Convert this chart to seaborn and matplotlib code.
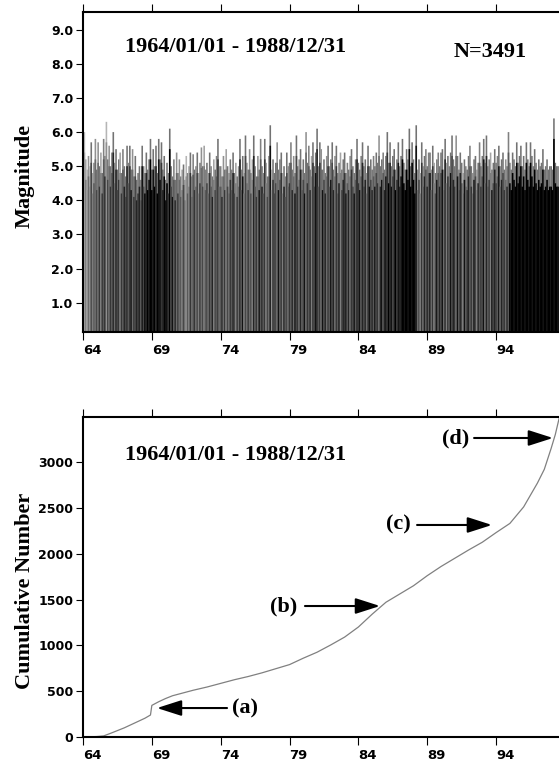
import matplotlib
matplotlib.use("Agg")
import matplotlib.pyplot as plt
import numpy as np
import pandas as pd
import seaborn as sns

# --- data --------------------------------------------------------------
# spike tops (magnitude), one value per 0.1 year, 1964.0 onwards
mag_64_68 = [5.3, 6.0, 5.2, 4.9, 5.3, 5.0, 5.7, 4.8, 5.1, 5.8,
             4.9, 5.7, 5.0, 5.4, 4.8, 5.8, 5.3, 6.3, 5.2, 5.6,
             5.0, 5.4, 6.0, 5.1, 5.5, 4.9, 5.2, 5.4, 4.8, 5.5,
             5.0, 4.7, 5.6, 5.1, 5.6, 4.9, 5.5, 4.7, 5.3, 4.6,
             4.8, 5.0, 4.6, 5.6, 5.0, 4.8, 5.4, 4.9, 5.2, 5.8]
mag_69_73 = [4.9, 5.5, 5.0, 5.6, 4.8, 5.8, 5.2, 5.7, 4.9, 5.3,
             4.6, 5.1, 4.8, 6.1, 5.0, 4.7, 5.2, 4.6, 5.4, 4.8,
             5.2, 4.7, 4.9, 5.05, 4.6, 5.3, 4.8, 5.0, 5.4, 4.7,
             5.35, 4.9, 5.0, 5.4, 4.8, 5.1, 5.55, 5.0, 5.6, 4.9,
             5.1, 4.8, 5.4, 5.0, 4.7, 5.2, 4.9, 5.3, 5.8, 5.0]
mag_74_78 = [5.0, 4.7, 5.3, 4.9, 5.5, 5.0, 4.8, 5.2, 4.9, 5.4,
             4.8, 5.1, 4.7, 5.0, 5.8, 4.9, 5.3, 4.8, 5.9, 5.1,
             4.9, 5.5, 4.8, 5.2, 5.9, 5.0, 4.7, 5.3, 4.9, 5.8,
             5.0, 4.8, 5.8, 5.1, 4.7, 5.3, 6.2, 4.9, 5.2, 4.8,
             5.1, 5.7, 4.9, 5.2, 5.4, 4.8, 5.0, 4.7, 5.4, 5.0]
mag_79_83 = [5.1, 5.7, 4.9, 5.3, 4.8, 5.9, 5.0, 5.2, 5.5, 4.9,
             5.2, 4.8, 6.0, 5.1, 5.6, 4.9, 5.3, 5.7, 5.0, 5.4,
             6.1, 5.0, 5.7, 5.5, 4.9, 5.2, 4.8, 5.3, 5.6, 5.0,
             5.2, 5.7, 4.9, 5.3, 5.6, 4.8, 5.1, 5.4, 4.9, 5.2,
             5.4, 4.8, 5.1, 4.9, 5.3, 5.5, 5.0, 4.8, 5.2, 5.8]
mag_84_88 = [5.1, 4.9, 5.3, 5.7, 5.0, 5.2, 4.8, 5.6, 5.0, 5.2,
             4.9, 5.3, 5.0, 5.4, 5.1, 5.9, 5.0, 5.2, 5.4, 4.9,
             5.3, 6.0, 5.1, 5.7, 5.0, 5.3, 5.5, 4.9, 5.2, 5.7,
             5.0, 5.3, 5.8, 5.1, 4.9, 5.5, 5.2, 6.1, 5.0, 5.7,
             5.2, 4.8, 6.2, 4.9, 5.2, 4.8, 5.7, 5.0, 5.3, 5.5]
mag_89_93 = [5.0, 5.4, 5.4, 4.9, 5.6, 5.1, 4.8, 5.2, 5.4, 5.0,
             5.4, 5.5, 4.9, 5.8, 5.1, 5.3, 5.0, 5.4, 5.9, 5.2,
             5.0, 5.9, 5.3, 4.9, 5.4, 5.1, 4.8, 5.2, 5.0, 4.9,
             5.3, 5.6, 5.0, 4.8, 5.2, 5.3, 4.9, 5.1, 5.7, 5.0,
             5.3, 5.8, 5.1, 5.9, 5.0, 5.2, 5.4, 4.9, 5.1, 5.5]
mag_94_98 = [5.1, 5.3, 5.6, 5.0, 5.2, 5.4, 4.9, 5.2, 5.0, 6.0,
             5.1, 4.9, 5.4, 5.2, 5.0, 5.7, 5.1, 5.3, 5.6, 5.0,
             5.3, 4.9, 5.7, 5.2, 5.0, 5.7, 5.3, 5.0, 5.5, 5.1,
             4.9, 5.2, 5.0, 5.1, 5.5, 4.9, 5.0, 5.2, 4.9, 5.0,
             5.0, 4.9, 6.4, 5.1, 5.0, 5.0]

# grey level of each spike column, 0 = black ... 9 = very light
shade_64_68 = "6979684756" "4637352846" "3526243735" "2425316342" "3251402010"
shade_69_73 = "0102010320" "1030415263" "6574685736" "5364736475" "4635274536"
shade_74_78 = "5263746352" "4736251746" "3647253615" "2537461834" "4615372546"
shade_79_83 = "3526143625" "4163527341" "2536142635" "1426351742" "3152634152"
shade_84_88 = "3152426314" "2514362152" "1302142031" "2100000000" "0016473625"
shade_89_93 = "2516374152" "4162735142" "3615247153" "2536147253" "4162537142"
shade_94_98 = "3516243625" "0000000000" "0000000000" "0000000000" "000000"

# cumulative number of events
cum_year = [64.0, 64.5, 65.0, 65.5, 66.0, 66.5, 67.0, 67.5, 68.0, 68.5,
            68.9, 69.0, 69.5, 70.0, 70.5, 71.0, 72.0, 73.0, 74.0, 75.0,
            76.0, 77.0, 78.0, 79.0, 80.0, 81.0, 82.0, 83.0, 84.0, 85.0,
            86.0, 87.0, 88.0, 89.0, 90.0, 91.0, 92.0, 93.0, 94.0, 95.0,
            95.5, 96.0, 96.5, 97.0, 97.5, 98.0, 98.3, 98.6]
cum_count = [0, 2, 5, 12, 40, 70, 100, 135, 170, 205,
             240, 345, 385, 420, 450, 470, 510, 545, 585, 625,
             660, 700, 745, 790, 860, 925, 1005, 1090, 1200, 1340,
             1470, 1560, 1650, 1760, 1860, 1950, 2040, 2125, 2230, 2330,
             2420, 2510, 2640, 2770, 2920, 3150, 3300, 3491]

year_ticks = [64, 69, 74, 79, 84, 89, 94]
mag_ticks = [1.0, 2.0, 3.0, 4.0, 5.0, 6.0, 7.0, 8.0, 9.0]
cum_ticks = [0, 500, 1000, 1500, 2000, 2500, 3000]
period = "1964/01/01 - 1988/12/31"
n_events = 3491

# --- figure -------------------------------------------------------------
sns.set_style("ticks")
plt.rcParams["font.family"] = ["DejaVu Sans"]
plt.rcParams["font.weight"] = "bold"
for key in ("text.color", "axes.labelcolor", "xtick.color", "ytick.color"):
    plt.rcParams[key] = "black"
serif = ["Liberation Serif", "DejaVu Serif"]

W, H = 559, 761
fig = plt.figure(figsize=(W / 100, H / 100), dpi=100)
ax_w = 492  # axes run past the right edge of the picture
ax1 = fig.add_axes([83 / W, (H - 332) / H, ax_w / W, 320 / H])
ax2 = fig.add_axes([83 / W, (H - 737) / H, ax_w / W, 320 / H])
xmax = 64 + ax_w / 13.77

mags = mag_64_68 + mag_69_73 + mag_74_78 + mag_79_83 + mag_84_88 + mag_89_93 + mag_94_98
shades = shade_64_68 + shade_69_73 + shade_74_78 + shade_79_83 + shade_84_88 + shade_89_93 + shade_94_98
spikes = pd.DataFrame({"mag": mags, "shade": [int(c) * 0.07 for c in shades]})
spikes["year"] = 64 + 0.1 * np.arange(len(spikes))
# lone tops of the spikes look lighter than the crowded lower part
spikes["body"] = spikes["mag"] - 0.6
spikes["tip"] = np.clip(spikes["shade"] + 0.15, 0.45, 0.72)

tips = ax1.vlines(spikes["year"], 0, spikes["mag"],
                  colors=[str(round(c, 3)) for c in spikes["tip"]], lw=1.15)
body = ax1.vlines(spikes["year"], 0, spikes["body"],
                  colors=[str(round(c, 3)) for c in spikes["shade"]], lw=1.15)
tips.set_snap(False)
body.set_snap(False)
ax1.set_ylim(0.14, 9.52)
ax1.set_yticks(mag_ticks)
ax1.set_yticklabels([f"{m:.1f}" for m in mag_ticks])

cum = pd.DataFrame({"year": cum_year, "count": cum_count})
sns.lineplot(data=cum, x="year", y="count", ax=ax2, color="0.5", lw=0.9)
ax2.set_ylim(0, n_events)
ax2.set_yticks(cum_ticks)

for ax in (ax1, ax2):
    ax.set_xlim(64, xmax)
    ax.set_xticks(year_ticks)
    ax.set_xticklabels([str(y) for y in year_ticks], ha="left")
    ax.set_xlabel("")
    ax.set_ylabel("")
    ax.tick_params(axis="x", top=True, direction="out", length=5.5, width=0.8,
                   pad=3, labelsize=9.5)
    ax.tick_params(axis="y", direction="out", length=5, width=0.8, pad=2, labelsize=9)
    for side in ("left", "top", "bottom"):
        ax.spines[side].set_linewidth(1.5)
        ax.spines[side].set_color("black")
    ax.spines["right"].set_visible(False)
    ax.grid(False)

ax1.text((236 - 83) / ax_w, 0.89, period, transform=ax1.transAxes, ha="center",
         va="center", family=serif, fontsize=16, fontweight="bold")
ax1.text((490 - 83) / ax_w, 0.875, f"N={n_events}", transform=ax1.transAxes,
         ha="center", va="center", family=serif, fontsize=16, fontweight="bold")
ax2.text((236 - 83) / ax_w, 0.881, period, transform=ax2.transAxes, ha="center",
         va="center", family=serif, fontsize=16, fontweight="bold")

fig.text(25 / W, 1 - 176 / H, "Magnitude", rotation=90, ha="center", va="center",
         family=serif, fontsize=16, fontweight="bold")
fig.text(25 / W, 1 - 591 / H, "Cumulative Number", rotation=90, ha="center",
         va="center", family=serif, fontsize=16, fontweight="bold")

# labelled arrows on the cumulative curve
arrow = dict(arrowstyle="-|>,head_length=1.0,head_width=0.32", mutation_scale=15,
             lw=1.5, color="black", shrinkA=0, shrinkB=0)
labels = [("(a)", 75.8, 316, 74.46, 69.37),
          ("(b)", 78.6, 1429, 80.12, 85.57),
          ("(c)", 86.87, 2313, 88.26, 93.7),
          ("(d)", 91.09, 3262, 92.4, 98.13)]
for txt, tx, ty, x0, x1 in labels:
    ax2.text(tx, ty, txt, ha="center", va="center", family=serif, fontsize=16,
             fontweight="bold")
    ax2.annotate("", xy=(x1, ty), xytext=(x0, ty), arrowprops=arrow)

fig.savefig("out.png", dpi=100)
